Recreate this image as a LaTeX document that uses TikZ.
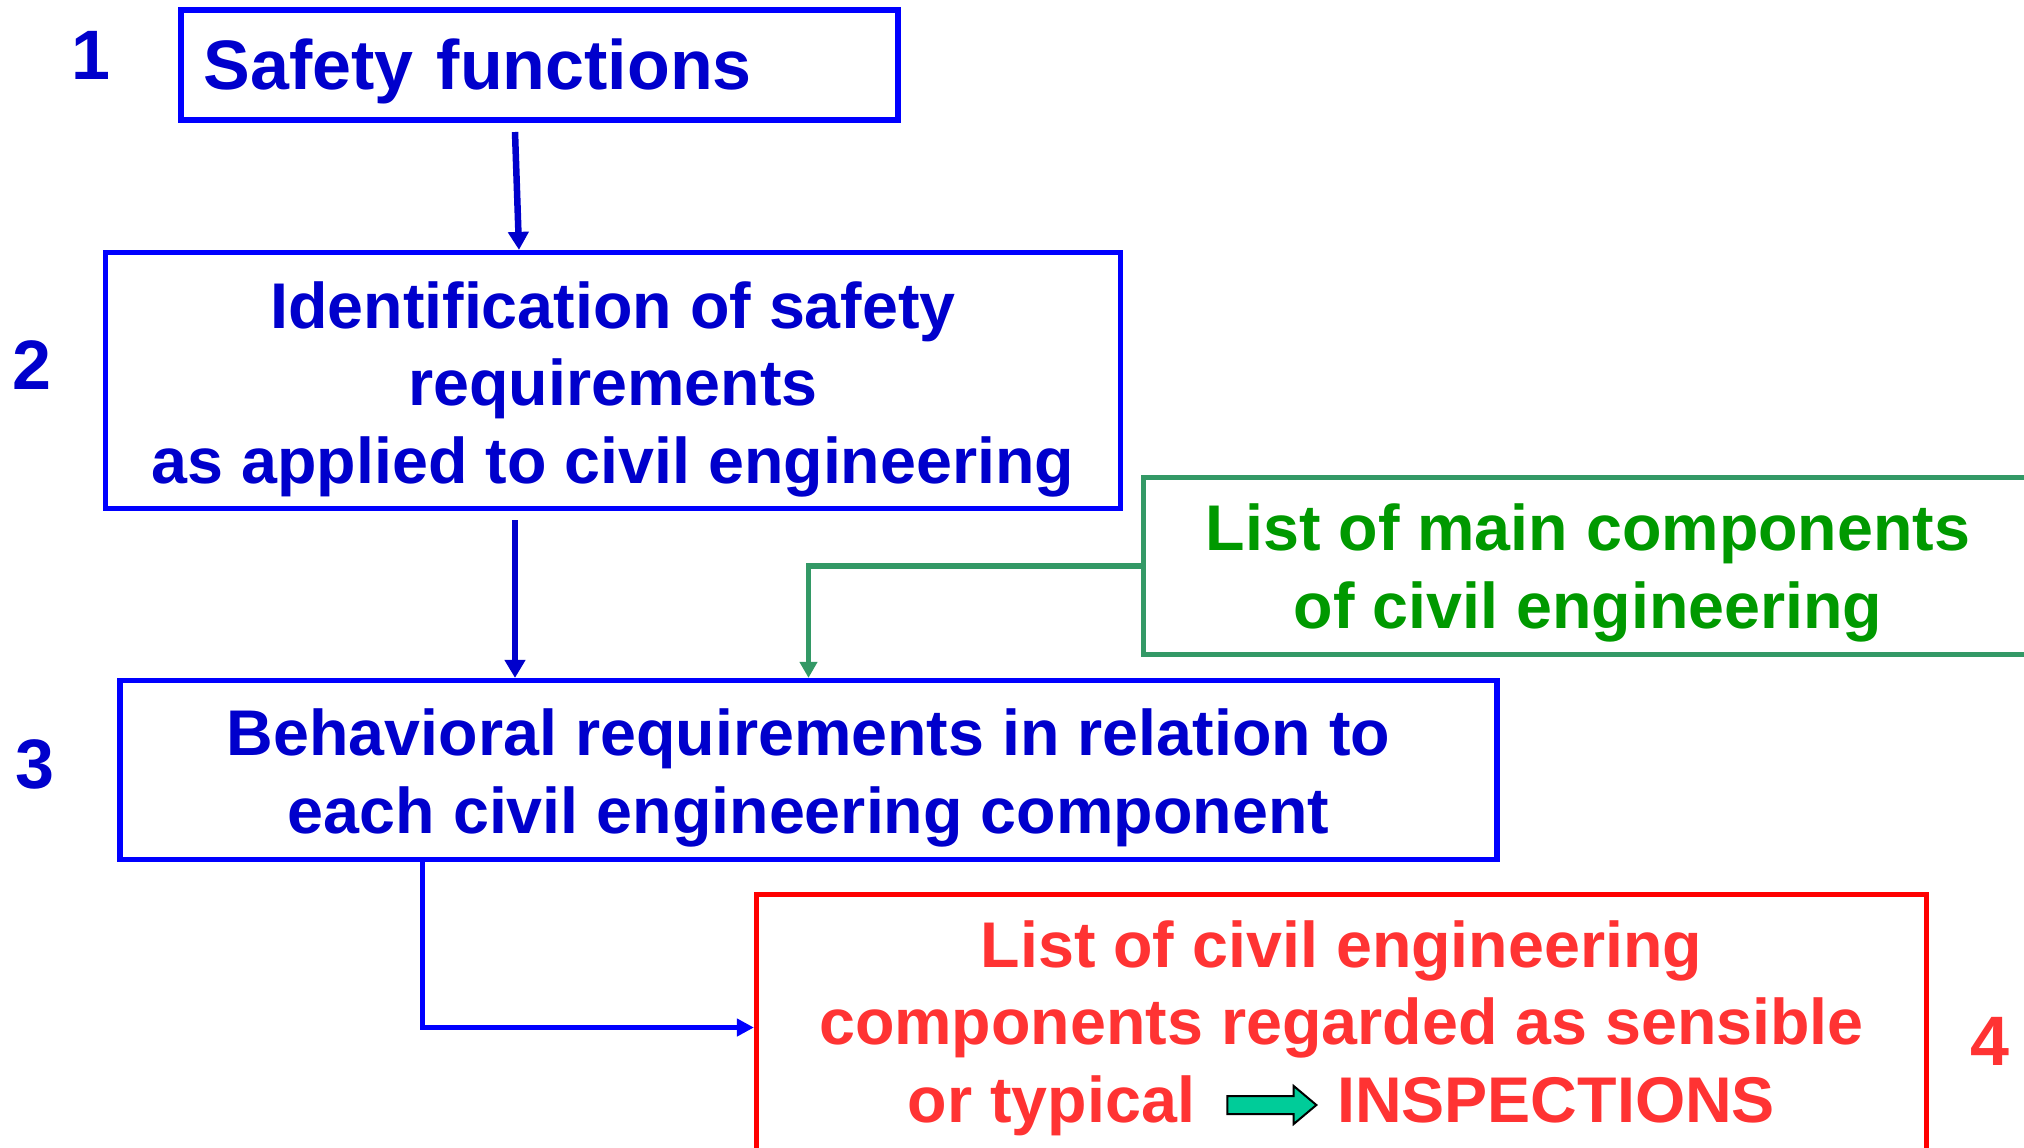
\documentclass[tikz,border=0pt]{standalone}
\usepackage{fontspec}
\setmainfont{Liberation Sans}
\usetikzlibrary{arrows.meta,shapes.arrows}

\definecolor{txtblue}{HTML}{0000CC}
\definecolor{lineblue}{HTML}{0000FF}
\definecolor{txtgreen}{HTML}{009900}
\definecolor{linegreen}{HTML}{339966}
\definecolor{txtred}{HTML}{FF3333}
\definecolor{linered}{HTML}{FF0000}
\definecolor{pointerfill}{HTML}{00CC99}

\begin{document}
\begin{tikzpicture}[x=0.5pt, y=-0.5pt,
  box/.style={draw, line width=2.6pt, inner ysep=0pt, align=center,
    font=\fontsize{32.3pt}{38.75pt}\selectfont\bfseries},
  num/.style={anchor=base, font=\fontsize{35pt}{40pt}\selectfont\bfseries},
  link/.style={line width=3.25pt, txtblue, -{Triangle[width=10pt, length=9pt]}},
  greenlink/.style={line width=2.65pt, linegreen, -{Triangle[width=8.5pt, length=8pt]}},
  bluelink/.style={line width=2.5pt, lineblue, -{Triangle[width=8.5pt, length=8.5pt]}}]
  \useasboundingbox (0,0) rectangle (2024,1147);
  \clip (0,0) rectangle (2024,1147);

  \node[box, draw=lineblue, text=txtblue, align=left, text width=336pt,
    inner xsep=11.25pt, minimum width=358.5pt, minimum height=55pt,
    font=\fontsize{35pt}{40pt}\selectfont\bfseries] (safety) at (539.5,65)
    {\rule[-7pt]{0pt}{39pt}Safety functions};
  \node[box, draw=lineblue, text=txtblue, minimum width=507.5pt,
    minimum height=128pt] (ident) at (613,380.5)
    {\rule{0pt}{32pt}Identification of safety\\requirements\\
     as applied to civil engineering\rule[-7pt]{0pt}{7pt}};
  \node[box, draw=lineblue, text=txtblue, minimum width=688.5pt,
    minimum height=89.5pt] (behave) at (808.5,770)
    {\rule{0pt}{31.5pt}Behavioral requirements in relation to\\
     each civil engineering component\rule[-7pt]{0pt}{7pt}};
  \node[box, draw=linegreen, text=txtgreen, minimum width=444.5pt,
    minimum height=88.5pt] (compo) at (1588,566)
    {\rule{0pt}{30.5pt}List of main components\\
     of civil engineering\rule[-7pt]{0pt}{7pt}};
  \node[box, draw=linered, text=txtred, minimum width=585pt,
    minimum height=133pt] (list) at (1341.5,1027.5)
    {\rule{0pt}{24pt}List of civil engineering\\
     components regarded as sensible\\
     or typical\hspace{71pt}INSPECTIONS\rule[-7pt]{0pt}{7pt}};
  \node[single arrow, draw=black, fill=pointerfill, line width=1pt,
    inner xsep=0pt, inner ysep=4pt, minimum height=44.5pt, minimum width=18pt,
    single arrow head extend=5pt, single arrow tip angle=80]
    (pointer) at (1266.5,1105) {};

  \node[num, txtblue] (n1) at (91,79) {1};
  \node[num, txtblue] (n2) at (32,389) {2};
  \node[num, txtblue] (n3) at (34.5,788) {3};
  \node[num, txtred] (n4) at (1990,1065) {4};

  \coordinate (s1) at (515,132);
  \coordinate (e1) at (519,0);
  \coordinate (s2) at (515,520);
  \coordinate (s3) at (422,0);
  \draw[link] (s1) -- (e1 |- ident.north);
  \draw[link] (s2) -- (s2 |- behave.north);
  \draw[greenlink] (compo.west) -| (behave.north);
  \draw[bluelink] (behave.south -| s3) |- (list.west);
\end{tikzpicture}
\end{document}
